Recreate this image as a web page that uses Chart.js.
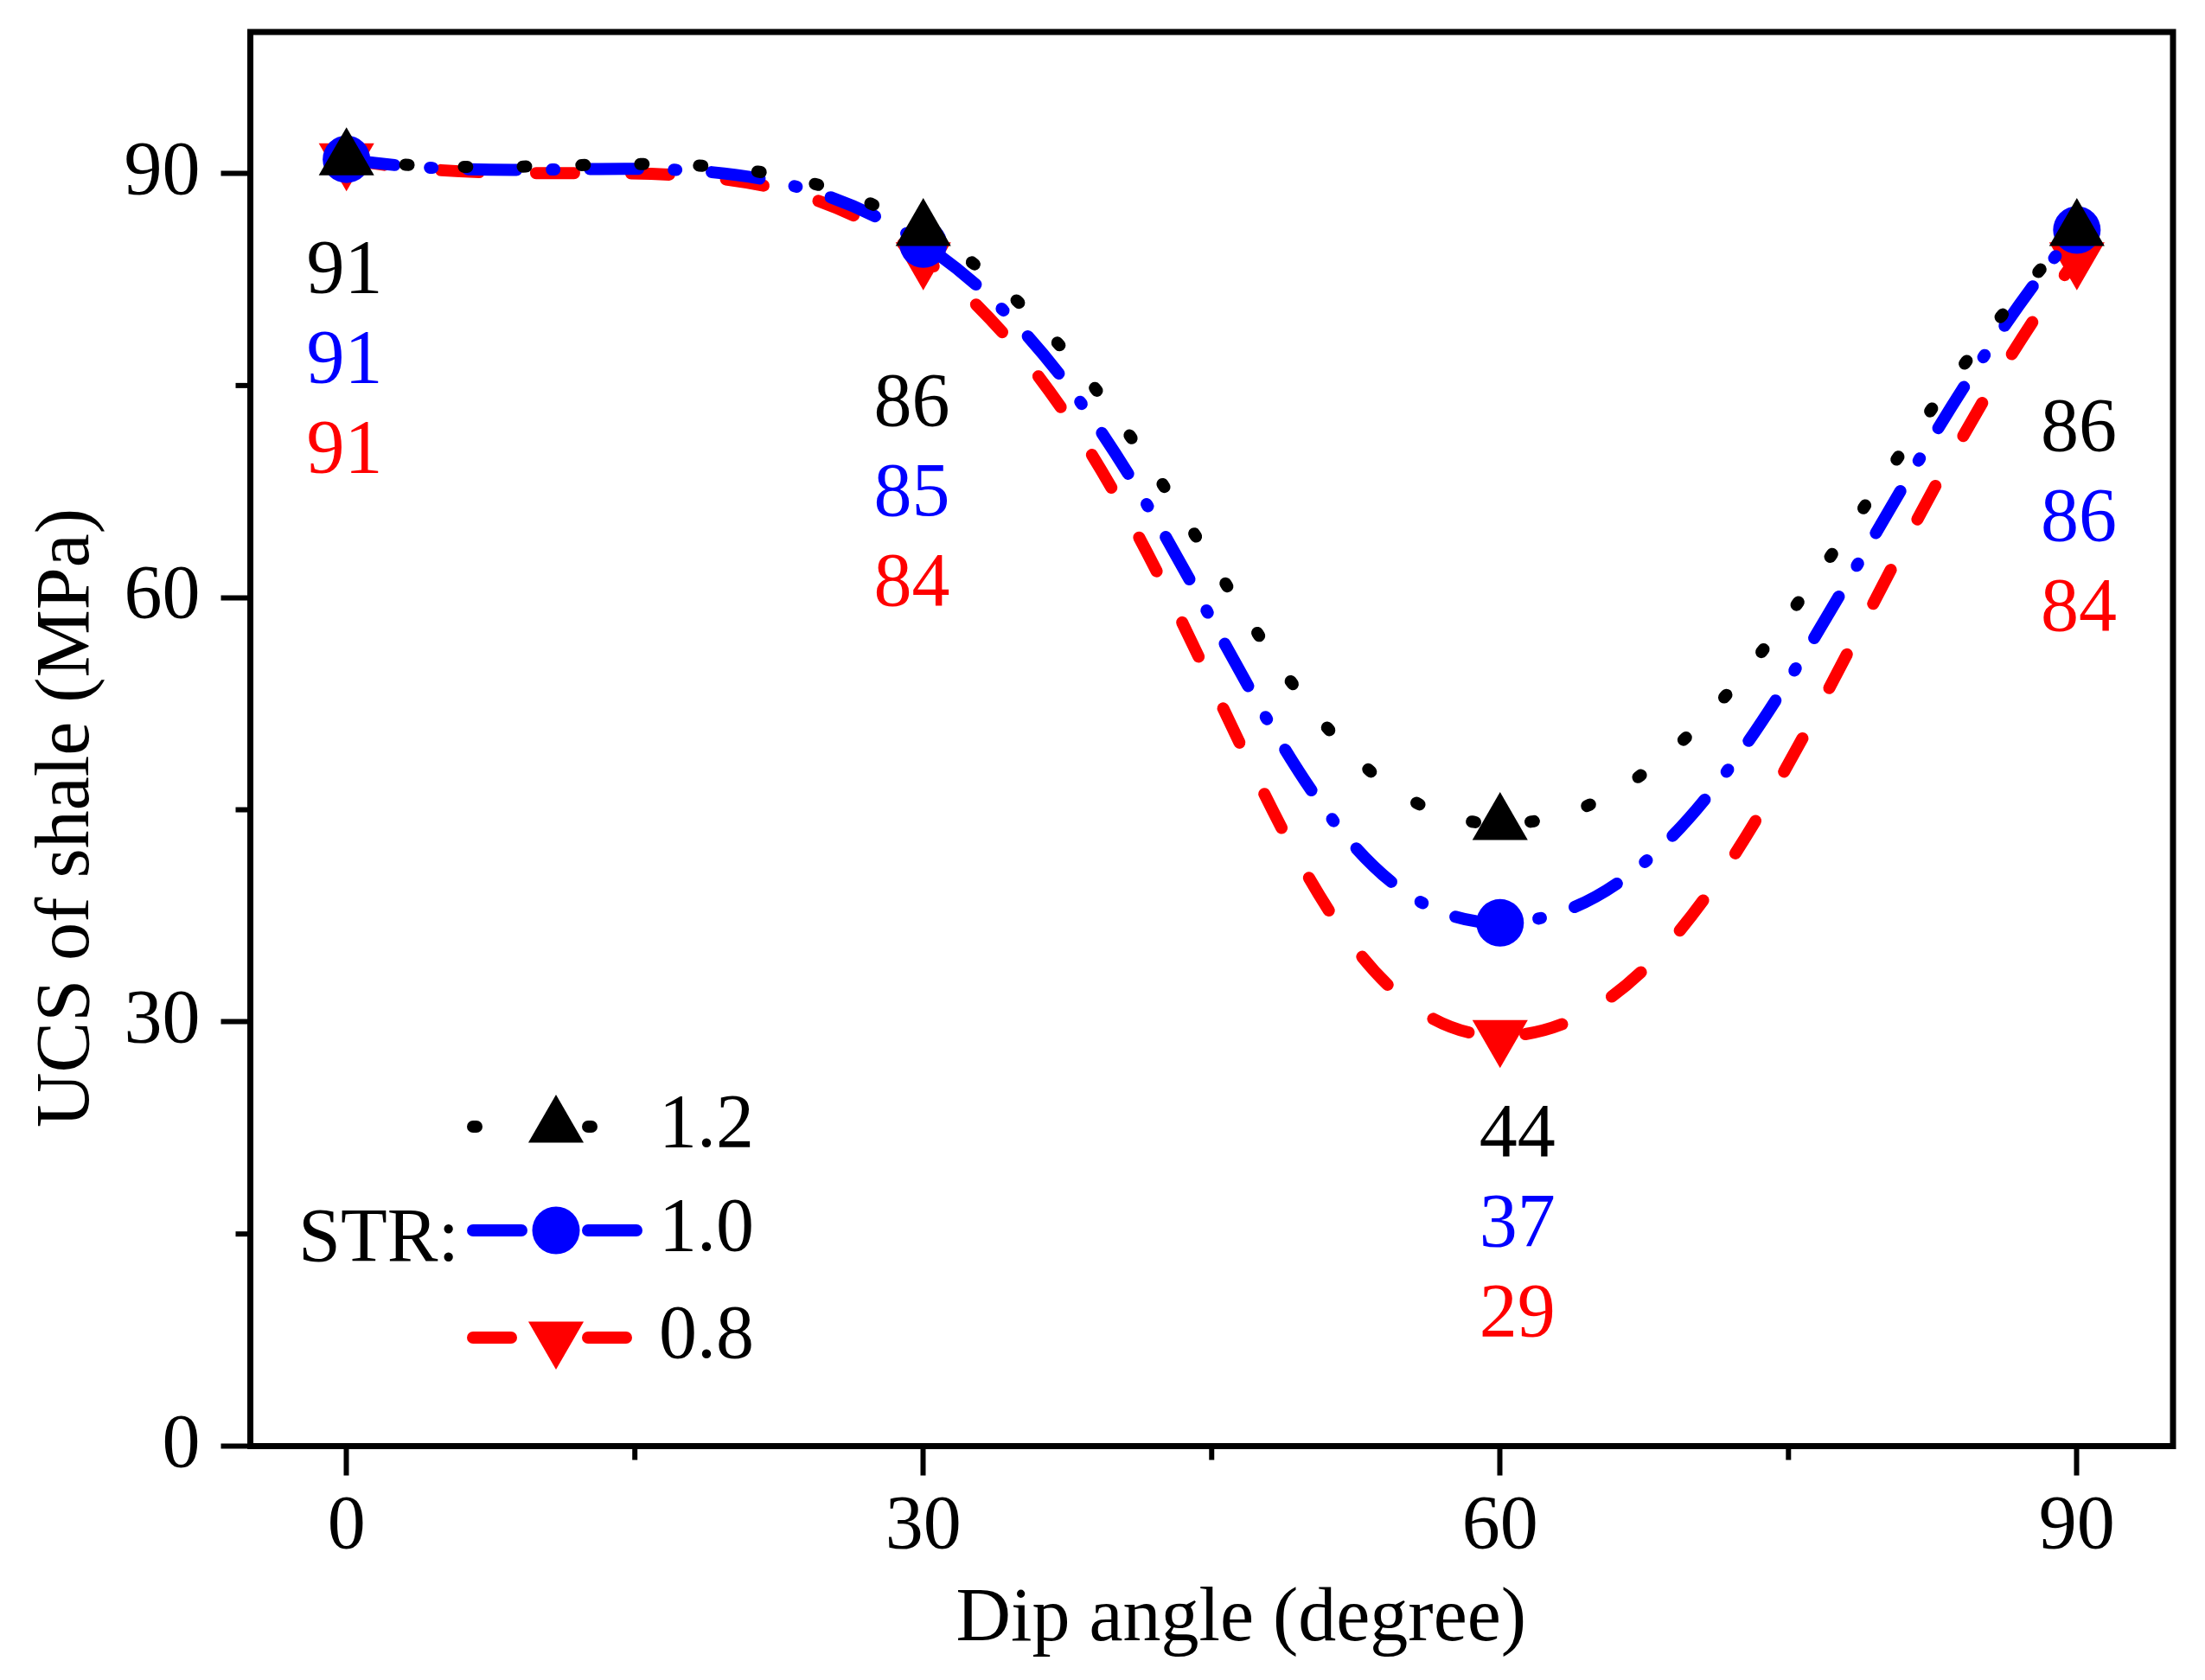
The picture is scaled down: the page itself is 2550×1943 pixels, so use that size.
<!DOCTYPE html>
<html>
<head>
<meta charset="utf-8">
<script src="https://cdn.jsdelivr.net/npm/chart.js@4.4.1/dist/chart.umd.min.js"></script>
<style>
html, body { margin: 0; padding: 0; background: #fff; }
#wrap { width: 2550px; height: 1943px; position: relative; }
</style>
</head>
<body>
<div id="wrap"><canvas id="ucsChart"></canvas></div>
<script>
// dip angle (degree)
var dipAngles = [0, 30, 60, 90];
// UCS of shale (MPa), one list per STR
var ucsStr12 = [91, 86, 44, 86];
var ucsStr10 = [91, 85, 37, 86];
var ucsStr08 = [91, 84, 29, 84];
var strLabels = ['1.2', '1.0', '0.8'];
var xTicks = [0, 15, 30, 45, 60, 75, 90];
var yTicks = [0, 15, 30, 45, 60, 75, 90];

var FONT = '"Liberation Serif", "Times New Roman", serif';
var FS = 88;

// where the value labels sit (data units of the first row), rows go down by rowStep px
var labelAnchors = [{x: -0.1, y: 83.0}, {x: 29.4, y: 73.6}, {x: 60.9, y: 21.9}, {x: 90.1, y: 71.8}];
var rowStep = 104;

function toPoints(vals) {
    return dipAngles.map(function (x, i) { return {x: x, y: vals[i]}; });
}

var seriesStyle = [
    {color: '#000000', dash: [4, 64], point: 'triangle', radius: 37, rotation: 0},
    {color: '#0000ff', dash: [56, 41, 3, 41], point: 'circle', radius: 27.5, rotation: 0},
    {color: '#ff0000', dash: [44, 66], point: 'triangle', radius: 37, rotation: 180}
];
var seriesValues = [ucsStr12, ucsStr10, ucsStr08];

var datasets = seriesValues.map(function (vals, k) {
    var s = seriesStyle[k];
    return {
        label: strLabels[k],
        data: toPoints(vals),
        borderColor: s.color,
        backgroundColor: s.color,
        borderWidth: 14,
        borderDash: s.dash,
        borderCapStyle: 'round',
        tension: 0.4,
        pointStyle: s.point,
        pointRadius: s.radius,
        pointRotation: s.rotation,
        pointBorderWidth: 0,
        pointBackgroundColor: s.color,
        pointHoverRadius: s.radius
    };
});

function majorColor(c) {
    return (c.tick && c.tick.value % 30 === 0) ? '#000' : 'rgba(0,0,0,0)';
}

// frame, minor ticks, titles, value labels, legend
var decorations = {
    id: 'decorations',
    afterDraw: function (chart) {
        var ctx = chart.ctx, a = chart.chartArea;
        var xs = chart.scales.x, ys = chart.scales.y;
        ctx.save();
        ctx.strokeStyle = '#000';
        ctx.lineWidth = 7;
        ctx.strokeRect(a.left, a.top, a.right - a.left, a.bottom - a.top);

        // minor ticks
        ctx.lineWidth = 6;
        xTicks.forEach(function (v) {
            if (v % 30 === 0) return;
            var px = xs.getPixelForValue(v);
            ctx.beginPath(); ctx.moveTo(px, a.bottom); ctx.lineTo(px, a.bottom + 16); ctx.stroke();
        });
        yTicks.forEach(function (v) {
            if (v % 30 === 0) return;
            var py = ys.getPixelForValue(v);
            ctx.beginPath(); ctx.moveTo(a.left, py); ctx.lineTo(a.left - 17, py); ctx.stroke();
        });

        ctx.font = FS + 'px ' + FONT;
        ctx.fillStyle = '#000';

        // axis titles
        ctx.textAlign = 'center';
        ctx.textBaseline = 'alphabetic';
        ctx.fillText('Dip angle (degree)', (a.left + a.right) / 2 + 34, a.bottom + 224.5);
        ctx.save();
        ctx.translate(102, 946);
        ctx.rotate(-Math.PI / 2);
        ctx.fillText('UCS of shale (MPa)', 0, 0);
        ctx.restore();

        // value labels
        ctx.textBaseline = 'middle';
        seriesValues.forEach(function (vals, k) {
            ctx.fillStyle = seriesStyle[k].color;
            vals.forEach(function (v, i) {
                var px = xs.getPixelForValue(labelAnchors[i].x);
                var py = ys.getPixelForValue(labelAnchors[i].y) + k * rowStep;
                ctx.fillText(String(v), px, py);
            });
        });

        // legend
        ctx.fillStyle = '#000';
        ctx.textAlign = 'left';
        ctx.textBaseline = 'alphabetic';
        ctx.fillText('STR:', 345, 1458);
        var rowY = [1303, 1423, 1547];
        var mx = 643;
        ctx.textBaseline = 'middle';
        seriesStyle.forEach(function (s, k) {
            var y = rowY[k];
            ctx.strokeStyle = s.color;
            ctx.lineWidth = 14;
            ctx.lineCap = 'round';
            ctx.setLineDash(s.dash);
            ctx.beginPath(); ctx.moveTo(547, y); ctx.lineTo(613, y); ctx.stroke();
            ctx.beginPath(); ctx.moveTo(680, y); ctx.lineTo(740, y); ctx.stroke();
            ctx.setLineDash([]);
            ctx.fillStyle = s.color;
            Chart.helpers.drawPoint(ctx, {pointStyle: s.point, radius: s.radius, rotation: s.rotation, borderWidth: 0}, mx, y);
            ctx.fillStyle = '#000';
            ctx.fillText(strLabels[k], 762, y);
        });
        ctx.restore();
    }
};

var myChart = new Chart(document.getElementById('ucsChart'), {
    type: 'line',
    data: {datasets: datasets},
    options: {
        responsive: true,
        maintainAspectRatio: false,
        devicePixelRatio: 1,
        animation: false,
        layout: {padding: {top: 35.5, right: 35.5, left: 0, bottom: 0}},
        plugins: {legend: {display: false}, tooltip: {enabled: false}},
        scales: {
            x: {
                type: 'linear',
                min: -5,
                max: 95,
                afterBuildTicks: function (axis) { axis.ticks = xTicks.map(function (v) { return {value: v}; }); },
                afterFit: function (axis) {
                    axis.height = 270.5;
                    axis.paddingLeft = 0; axis.paddingRight = 0;
                },
                border: {display: true, color: '#000', width: 7},
                grid: {drawOnChartArea: false, drawTicks: true, tickLength: 34, tickWidth: 6, tickColor: majorColor},
                ticks: {
                    color: '#000', padding: 8, maxRotation: 0, autoSkip: false,
                    font: {family: FONT, size: FS},
                    callback: function (v) { return v % 30 === 0 ? String(v) : ''; }
                }
            },
            y: {
                min: 0,
                max: 100,
                afterBuildTicks: function (axis) { axis.ticks = yTicks.map(function (v) { return {value: v}; }); },
                afterFit: function (axis) {
                    axis.width = 289.5;
                    axis.paddingTop = 0; axis.paddingBottom = 0;
                },
                border: {display: true, color: '#000', width: 7},
                grid: {drawOnChartArea: false, drawTicks: true, tickLength: 34, tickWidth: 6, tickColor: majorColor},
                ticks: {
                    color: '#000', padding: 24, autoSkip: false,
                    font: {family: FONT, size: FS},
                    callback: function (v) { return v % 30 === 0 ? String(v) : ''; }
                }
            }
        }
    },
    plugins: [decorations]
});
</script>
</body>
</html>
